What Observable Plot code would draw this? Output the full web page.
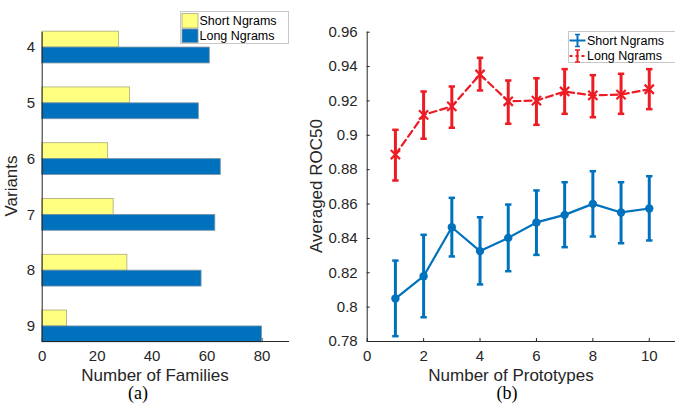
<!DOCTYPE html>
<html><head><meta charset="utf-8">
<script src="https://cdn.jsdelivr.net/npm/d3@7"></script>
<script src="https://cdn.jsdelivr.net/npm/@observablehq/plot@0.6"></script>
<style>
html,body{margin:0;padding:0;background:#fff;overflow:hidden}
#wrap{position:relative;width:675px;height:403px;overflow:hidden;font-family:"Liberation Sans",Arial,sans-serif;color:#262626}
#wrap svg.plot{position:absolute;top:0}
.lbl{position:absolute;font-size:17px;white-space:nowrap;line-height:14px;transform:translate(-50%,0)}
.rot{position:absolute;font-size:17px;white-space:nowrap;line-height:1;transform:translate(-50%,-50%) rotate(-90deg)}
.cap{position:absolute;font-family:"Liberation Serif","Times New Roman",serif;font-size:18px;line-height:15px;transform:translate(-50%,0);color:#000}
</style></head><body><div id="wrap"></div>
<script>
// ---- (a) data ----
const variants = [4, 5, 6, 7, 8, 9];
const shortFamilies = [28, 32, 24, 26, 31, 9];
const longFamilies = [61, 57, 65, 63, 58, 80];
const familyTicks = [0, 20, 40, 60, 80];
const familyDomain = [0, 90];
const variantDomain = [3.73, 9.27];

// ---- (b) data ----
const prototypes = [1, 2, 3, 4, 5, 6, 7, 8, 9, 10];
const shortMean = [0.805, 0.818, 0.8465, 0.8326, 0.8403, 0.8493, 0.8537, 0.8601, 0.8551, 0.8574];
const shortLow  = [0.7831, 0.7941, 0.8295, 0.8132, 0.8209, 0.8304, 0.8349, 0.8411, 0.8372, 0.8388];
const shortHigh = [0.8271, 0.8421, 0.8636, 0.8523, 0.8597, 0.8679, 0.8727, 0.8791, 0.8727, 0.8762];
const longMean = [0.8888, 0.9119, 0.9168, 0.9354, 0.9198, 0.9202, 0.9255, 0.9232, 0.9237, 0.9268];
const longLow  = [0.8737, 0.898, 0.9044, 0.9261, 0.9067, 0.9061, 0.9125, 0.9105, 0.9125, 0.9152];
const longHigh = [0.9032, 0.9255, 0.9284, 0.9451, 0.9319, 0.9332, 0.9385, 0.935, 0.9358, 0.9385];
const protoTicks = [0, 2, 4, 6, 8, 10];
const protoDomain = [0, 10.93];
const rocTicks = [0.78, 0.8, 0.82, 0.84, 0.86, 0.88, 0.9, 0.92, 0.94, 0.96];
const rocDomain = [0.78, 0.96];

const YELLOW = "#ffff80", BLUE = "#0072bd", RED = "#ed1c24", INK = "#262626";
const wrap = document.getElementById("wrap");

const barRows = variants.map((v, i) => ({variant: v, short: shortFamilies[i], long: longFamilies[i]}));
const barH = 0.285;
const style = {fontFamily: "Liberation Sans, Arial, sans-serif", fontSize: "15px", color: INK, background: "transparent", overflow: "visible"};

const left = Plot.plot({
  width: 300, height: 403,
  marginLeft: 41.7, marginRight: 11, marginTop: 32, marginBottom: 62,
  style,
  x: {domain: familyDomain, ticks: familyTicks, tickSize: -3, tickPadding: 12, label: null},
  y: {domain: variantDomain, reverse: true, ticks: variants, tickSize: -3, tickPadding: 10, label: null, tickFormat: d => String(d)},
  marks: [
    Plot.rectX(barRows, {x1: () => 0, x2: "short", y1: d => d.variant - barH, y2: "variant", fill: YELLOW, stroke: "#a9a97c", strokeWidth: 0.8}),
    Plot.rectX(barRows, {x1: () => 0, x2: "long", y1: "variant", y2: d => d.variant + barH, fill: BLUE, stroke: "#7d93a6", strokeWidth: 0.8}),
    Plot.ruleX([familyDomain[0]], {stroke: INK, strokeWidth: 1}),
    Plot.ruleY([variantDomain[1]], {stroke: INK, strokeWidth: 1})
  ]
});
left.classList.add("plot");
left.style.left = "0px";
wrap.appendChild(left);

const shortRows = prototypes.map((p, i) => ({p, mean: shortMean[i], lo: shortLow[i], hi: shortHigh[i]}));
const longRows = prototypes.map((p, i) => ({p, mean: longMean[i], lo: longLow[i], hi: longHigh[i]}));
const capSymbol = {draw(ctx, size) { const w = 3.2; ctx.moveTo(-w, 0); ctx.lineTo(w, 0); }};
const starSymbol = {draw(ctx, size) { const w = 4.6; ctx.moveTo(-w, -w); ctx.lineTo(w, w); ctx.moveTo(-w, w); ctx.lineTo(w, -w); }};

function errMarks(rows, color) {
  return [
    Plot.ruleX(rows, {x: "p", y1: "lo", y2: "hi", stroke: color, strokeWidth: 3}),
    Plot.dot(rows, {x: "p", y: "lo", symbol: capSymbol, stroke: color, strokeWidth: 2.5, r: 3}),
    Plot.dot(rows, {x: "p", y: "hi", symbol: capSymbol, stroke: color, strokeWidth: 2.5, r: 3})
  ];
}

const right = Plot.plot({
  width: 378, height: 403,
  marginLeft: 69.7, marginRight: 0, marginTop: 31.7, marginBottom: 62,
  style,
  x: {domain: protoDomain, ticks: protoTicks, tickSize: -3, tickPadding: 12, label: null},
  y: {domain: rocDomain, ticks: rocTicks, tickSize: -3, tickPadding: 12.5, label: null, tickFormat: d => String(+d.toFixed(2))},
  marks: [
    ...errMarks(longRows, RED),
    Plot.line(longRows, {x: "p", y: "mean", stroke: RED, strokeWidth: 2.2, strokeDasharray: "7,4"}),
    Plot.dot(longRows, {x: "p", y: "mean", symbol: starSymbol, stroke: RED, strokeWidth: 2.2, r: 4}),
    ...errMarks(shortRows, BLUE),
    Plot.line(shortRows, {x: "p", y: "mean", stroke: BLUE, strokeWidth: 2.2}),
    Plot.dot(shortRows, {x: "p", y: "mean", fill: BLUE, r: 4.2}),
    Plot.ruleX([protoDomain[0]], {stroke: INK, strokeWidth: 1}),
    Plot.ruleY([rocDomain[0]], {stroke: INK, strokeWidth: 1})
  ]
});
right.classList.add("plot");
right.style.left = "297px";
wrap.appendChild(right);

// ---- text labels ----
function addDiv(cls, text, x, y) {
  const d = document.createElement("div");
  d.className = cls; d.textContent = text;
  d.style.left = x + "px"; d.style.top = y + "px";
  wrap.appendChild(d);
}
addDiv("lbl", "Number of Families", 155, 368.5);
addDiv("lbl", "Number of Prototypes", 511, 368.5);
addDiv("cap", "(a)", 138, 386);
addDiv("cap", "(b)", 507, 386);
addDiv("rot", "Variants", 11, 186);
addDiv("rot", "Averaged ROC50", 316, 186);

// ---- legends ----
const NS = "http://www.w3.org/2000/svg";
const leg = document.createElementNS(NS, "svg");
leg.setAttribute("width", 675); leg.setAttribute("height", 403);
leg.style.position = "absolute"; leg.style.left = "0"; leg.style.top = "0";
function el(tag, attrs, text) {
  const e = document.createElementNS(NS, tag);
  for (const k in attrs) e.setAttribute(k, attrs[k]);
  if (text) e.textContent = text;
  leg.appendChild(e);
  return e;
}
const legendLabels = ["Short Ngrams", "Long Ngrams"];
// left legend
el("rect", {x: 180.5, y: 11.5, width: 108, height: 32, fill: "#fff", stroke: "#c8c8c8"});
el("rect", {x: 182, y: 13.5, width: 16, height: 14.5, fill: YELLOW, stroke: "#a9a97c", "stroke-width": 0.8});
el("rect", {x: 182, y: 29, width: 16, height: 13.5, fill: BLUE, stroke: "#7d93a6", "stroke-width": 0.8});
el("text", {x: 199.5, y: 20.7, "dominant-baseline": "central", "font-size": 12.5, fill: "#000", "font-family": "Liberation Sans, Arial, sans-serif"}, legendLabels[0]);
el("text", {x: 199.5, y: 35.7, "dominant-baseline": "central", "font-size": 12.5, fill: "#000", "font-family": "Liberation Sans, Arial, sans-serif"}, legendLabels[1]);
// right legend
el("rect", {x: 568.5, y: 31.5, width: 110, height: 31, fill: "#fff", stroke: "#c8c8c8"});
el("line", {x1: 569.5, x2: 585.5, y1: 40.5, y2: 40.5, stroke: BLUE, "stroke-width": 2});
el("line", {x1: 577.5, x2: 577.5, y1: 34.5, y2: 46.5, stroke: BLUE, "stroke-width": 2});
el("line", {x1: 575, x2: 580, y1: 34.5, y2: 34.5, stroke: BLUE, "stroke-width": 1.5});
el("line", {x1: 575, x2: 580, y1: 46.5, y2: 46.5, stroke: BLUE, "stroke-width": 1.5});
el("line", {x1: 569.5, x2: 585.5, y1: 56, y2: 56, stroke: RED, "stroke-width": 2, "stroke-dasharray": "3,3"});
el("line", {x1: 577.5, x2: 577.5, y1: 50, y2: 62, stroke: RED, "stroke-width": 2});
el("line", {x1: 575, x2: 580, y1: 50, y2: 50, stroke: RED, "stroke-width": 1.5});
el("line", {x1: 575, x2: 580, y1: 62, y2: 62, stroke: RED, "stroke-width": 1.5});
el("text", {x: 587, y: 40.5, "dominant-baseline": "central", "font-size": 12.5, fill: "#000", "font-family": "Liberation Sans, Arial, sans-serif"}, legendLabels[0]);
el("text", {x: 587, y: 56, "dominant-baseline": "central", "font-size": 12.5, fill: "#000", "font-family": "Liberation Sans, Arial, sans-serif"}, legendLabels[1]);
wrap.appendChild(leg);
</script></body></html>
